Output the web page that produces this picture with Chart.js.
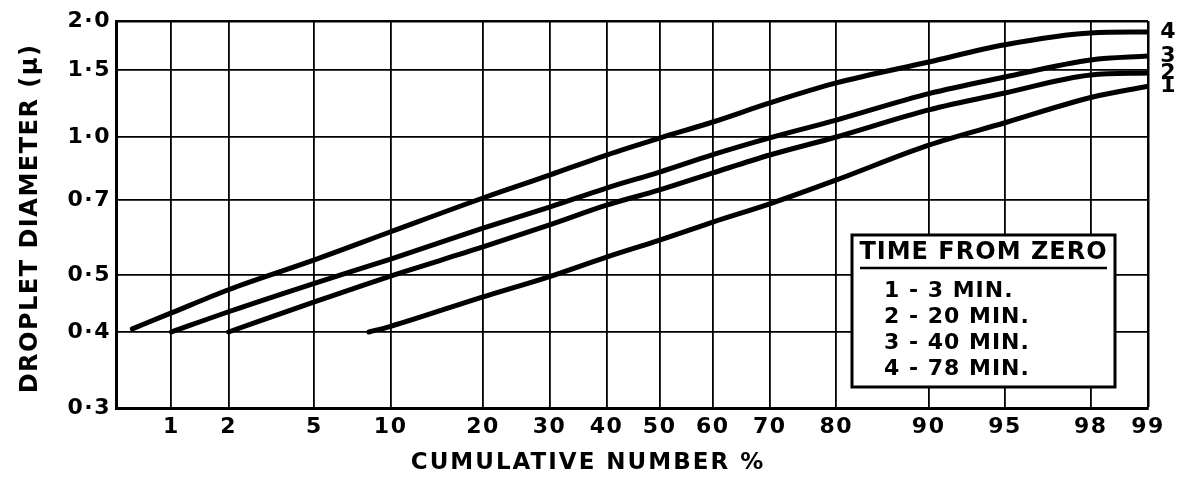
<!DOCTYPE html>
<html>
<head>
<meta charset="utf-8">
<script src="https://cdn.jsdelivr.net/npm/chart.js@4.4.1/dist/chart.umd.min.js"></script>
<style>
  html, body { margin: 0; padding: 0; background: #fff; }
  #wrap { width: 1190px; height: 482px; }
</style>
</head>
<body>
<div id="wrap"><canvas id="c" width="1190" height="482"></canvas></div>
<script>
// ---------- data ----------
const X_TICKS = [1, 2, 5, 10, 20, 30, 40, 50, 60, 70, 80, 90, 95, 98, 99];   // cumulative number %
const X_MIN = 0.48, X_MAX = 99;
const Y_TICKS = [0.3, 0.4, 0.5, 0.7, 1.0, 1.5, 2.0];                        // droplet diameter (µ)
// relative spacing of the printed (hand-ruled) diameter grid lines, bottom = 0
const Y_GRID_SPACING = [0, 76, 133, 208, 271, 338, 387];

const s1Pct = [8.3, 10, 20, 30, 40, 50, 60, 70, 80, 90, 95, 98, 99];
const s1Dia = [0.40, 0.409, 0.459, 0.497, 0.542, 0.585, 0.634, 0.688, 0.784, 0.955, 1.09, 1.27, 1.36];

const s2Pct = [2, 5, 10, 20, 30, 40, 50, 60, 70, 80, 90, 95, 98, 99];
const s2Dia = [0.40, 0.45, 0.498, 0.567, 0.626, 0.684, 0.741, 0.816, 0.903, 1.0, 1.178, 1.305, 1.455, 1.473];

const s3Pct = [1, 2, 5, 10, 20, 30, 40, 50, 60, 70, 80, 90, 95, 98, 99];
const s3Dia = [0.40, 0.433, 0.484, 0.537, 0.617, 0.678, 0.749, 0.820, 0.905, 0.995, 1.108, 1.300, 1.438, 1.591, 1.628];

const s4Pct = [0.6, 1, 2, 5, 10, 20, 30, 40, 50, 60, 70, 80, 90, 95, 98, 99];
const s4Dia = [0.405, 0.431, 0.472, 0.535, 0.607, 0.708, 0.806, 0.903, 0.994, 1.095, 1.229, 1.387, 1.572, 1.74, 1.864, 1.875];

const curveIds = ['1', '2', '3', '4'];
const xTitle = 'CUMULATIVE NUMBER %';
const yTitle = 'DROPLET DIAMETER (μ)';
const legendTitle = 'TIME FROM ZERO';
const legendLines = ['1 - 3 MIN.', '2 - 20 MIN.', '3 - 40 MIN.', '4 - 78 MIN.'];

// ---------- axis transforms ----------
function probit(p) {
  const a = [-3.969683028665376e+01, 2.209460984245205e+02, -2.759285104469687e+02, 1.383577518672690e+02, -3.066479806614716e+01, 2.506628277459239e+00];
  const b = [-5.447609879822406e+01, 1.615858368580409e+02, -1.556989798598866e+02, 6.680131188771972e+01, -1.328068155288572e+01];
  const c = [-7.784894002430293e-03, -3.223964580411365e-01, -2.400758277161838e+00, -2.549671348283932e+00, 4.374664141464968e+00, 2.938163982698783e+00];
  const d = [7.784695709041462e-03, 3.224671290700398e-01, 2.445134137142996e+00, 3.754408661907416e+00];
  const pl = 0.02425, ph = 1 - pl;
  let q, r;
  if (p < pl) {
    q = Math.sqrt(-2 * Math.log(p));
    return (((((c[0]*q+c[1])*q+c[2])*q+c[3])*q+c[4])*q+c[5]) / ((((d[0]*q+d[1])*q+d[2])*q+d[3])*q+1);
  }
  if (p <= ph) {
    q = p - 0.5; r = q * q;
    return (((((a[0]*r+a[1])*r+a[2])*r+a[3])*r+a[4])*r+a[5])*q / (((((b[0]*r+b[1])*r+b[2])*r+b[3])*r+b[4])*r+1);
  }
  q = Math.sqrt(-2 * Math.log(1 - p));
  return -(((((c[0]*q+c[1])*q+c[2])*q+c[3])*q+c[4])*q+c[5]) / ((((d[0]*q+d[1])*q+d[2])*q+d[3])*q+1);
}
function gridLog(v) {
  if (!(v > 0)) return Y_GRID_SPACING[0];
  let i = 0;
  while (i < Y_TICKS.length - 2 && v > Y_TICKS[i + 1]) i++;
  const t = Math.log(v / Y_TICKS[i]) / Math.log(Y_TICKS[i + 1] / Y_TICKS[i]);
  return Y_GRID_SPACING[i] + t * (Y_GRID_SPACING[i + 1] - Y_GRID_SPACING[i]);
}

class WarpedScale extends Chart.Scale {
  parse(raw) { return raw == null ? null : +raw; }
  determineDataLimits() { this.min = this.options.min; this.max = this.options.max; }
  getLabelForValue(v) { return String(v); }
  configure() {
    super.configure();
    this._t0 = this.warp(this.min);
    this._t1 = this.warp(this.max);
  }
  getPixelForValue(v) {
    return this.getPixelForDecimal((this.warp(v) - this._t0) / (this._t1 - this._t0));
  }
  getValueForPixel() { return null; }
}
class ProbabilityScale extends WarpedScale {
  static id = 'probability';
  static defaults = {};
  warp(v) { return probit(v / 100); }
  buildTicks() { return X_TICKS.map(v => ({ value: v })); }
}
class GridLogScale extends WarpedScale {
  static id = 'gridlog';
  static defaults = {};
  warp(v) { return gridLog(v); }
  buildTicks() { return Y_TICKS.map(v => ({ value: v })); }
}
Chart.register(ProbabilityScale, GridLogScale);

// ---------- plugins ----------
const FONT = '"DejaVu Sans", "Liberation Sans", sans-serif';

const spacingPlugin = {
  id: 'spacing',
  beforeDraw(chart) { chart.ctx.letterSpacing = '1.5px'; }
};

const annotatePlugin = {
  id: 'annotate',
  afterDatasetsDraw(chart) {
    const ctx = chart.ctx;
    const ca = chart.chartArea;
    ctx.save();
    ctx.fillStyle = '#000';
    // x axis title
    ctx.font = 'bold 23px ' + FONT;
    ctx.letterSpacing = '2px';
    ctx.textAlign = 'center';
    ctx.textBaseline = 'middle';
    ctx.fillText(xTitle, ca.left + 472, ca.bottom + 55);
    // y axis title
    ctx.save();
    ctx.translate(31, (ca.top + ca.bottom) / 2 + 4);
    ctx.rotate(-Math.PI / 2);
    ctx.font = 'bold 24px ' + FONT;
    ctx.letterSpacing = '1.5px';
    ctx.fillText(yTitle, 0, 0);
    ctx.restore();
    // curve end labels
    ctx.font = 'bold 22px ' + FONT;
    ctx.letterSpacing = '0px';
    chart.data.datasets.forEach((ds, i) => {
      const meta = chart.getDatasetMeta(i);
      const last = meta.data[meta.data.length - 1];
      ctx.fillText(ds.label, ca.right + 20, last.y);
    });
    // legend box
    const L = ca.right - 296, R = ca.right - 33, T = ca.bottom - 173, B = ca.bottom - 21;
    ctx.fillStyle = '#fff';
    ctx.fillRect(L, T, R - L, B - T);
    ctx.strokeStyle = '#000';
    ctx.lineWidth = 3;
    ctx.strokeRect(L, T, R - L, B - T);
    ctx.fillStyle = '#000';
    ctx.textAlign = 'left';
    ctx.font = 'bold 24px ' + FONT;
    ctx.letterSpacing = '1px';
    const tw = ctx.measureText(legendTitle).width;
    ctx.fillText(legendTitle, (L + R) / 2 - tw / 2, T + 18);
    ctx.lineWidth = 2.5;
    ctx.beginPath();
    ctx.moveTo(L + 8, T + 33);
    ctx.lineTo(R - 8, T + 33);
    ctx.stroke();
    ctx.font = 'bold 22px ' + FONT;
    legendLines.forEach((s, k) => {
      ctx.fillText(s, L + 32, T + 56 + k * 26);
    });
    ctx.restore();
  }
};

// ---------- chart ----------
const mk = (pct, dia) => pct.map((p, i) => ({ x: p, y: dia[i] }));
const seriesStyle = {
  borderColor: '#000', borderWidth: 5, pointRadius: 0, fill: false,
  cubicInterpolationMode: 'monotone', borderCapStyle: 'round', borderJoinStyle: 'round'
};

new Chart(document.getElementById('c'), {
  type: 'line',
  data: {
    datasets: [
      Object.assign({ label: curveIds[0], data: mk(s1Pct, s1Dia) }, seriesStyle),
      Object.assign({ label: curveIds[1], data: mk(s2Pct, s2Dia) }, seriesStyle),
      Object.assign({ label: curveIds[2], data: mk(s3Pct, s3Dia) }, seriesStyle),
      Object.assign({ label: curveIds[3], data: mk(s4Pct, s4Dia) }, seriesStyle)
    ]
  },
  options: {
    responsive: false,
    animation: false,
    events: [],
    layout: { padding: { left: 0, top: 21, right: 42, bottom: 0 } },
    plugins: { legend: { display: false }, tooltip: { enabled: false } },
    scales: {
      x: {
        type: 'probability',
        position: 'bottom',
        min: X_MIN, max: X_MAX,
        afterFit: s => { s.height = 74; },
        grid: {
          color: '#000', drawTicks: false,
          lineWidth: c => (c.index === X_TICKS.length - 1 ? 2.5 : 1.8)
        },
        border: { display: true, color: '#000', width: 3 },
        ticks: {
          autoSkip: false, maxRotation: 0, padding: 6, color: '#000',
          font: { family: FONT, size: 22, weight: 'bold' },
          callback: v => String(v)
        },
        title: { display: false }
      },
      y: {
        type: 'gridlog',
        position: 'left',
        min: Y_TICKS[0], max: Y_TICKS[Y_TICKS.length - 1],
        afterFit: s => { s.width = 116; },
        grid: {
          color: '#000', drawTicks: false,
          lineWidth: c => (c.index === Y_TICKS.length - 1 ? 2.5 : 1.8)
        },
        border: { display: true, color: '#000', width: 3 },
        ticks: {
          autoSkip: false, padding: 5, color: '#000',
          font: { family: FONT, size: 22, weight: 'bold' },
          callback: v => v.toFixed(1).replace('.', '·')
        },
        title: { display: false }
      }
    }
  },
  plugins: [spacingPlugin, annotatePlugin]
});
</script>
</body>
</html>
